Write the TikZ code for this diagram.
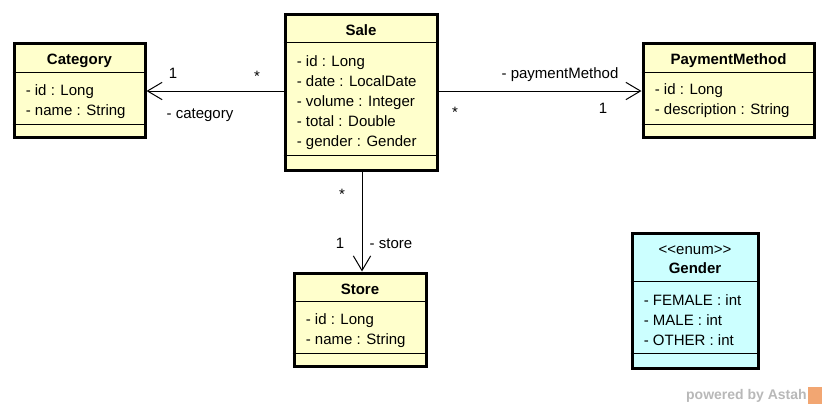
\documentclass[tikz,border=0pt]{standalone}
\usepackage{fontspec}
\setmainfont{Liberation Sans}
\usetikzlibrary{positioning,arrows.meta,calc}
\definecolor{clsfill}{HTML}{FFFFCC}
\definecolor{enumfill}{HTML}{CCFFFF}
\definecolor{logogray}{HTML}{B8B8B8}
\definecolor{logoorange}{HTML}{F2A672}
\tikzset{
  cls/.style={rectangle,draw=black,line width=2.25pt,fill=clsfill,inner sep=0pt},
  enm/.style={cls,fill=enumfill},
  ttl/.style={font=\fontsize{11.25}{14}\selectfont\bfseries,inner sep=0pt,anchor=base},
  attrs/.style={align=left,anchor=north west,inner sep=0pt,
    font=\fontsize{11.25}{15}\selectfont},
  sepline/.style={line width=0.75pt},
  assoc/.style={-{Straight Barb[length=11pt,width=13pt]},line width=0.75pt},
  lbl/.style={font=\fontsize{11.25}{14}\selectfont,inner sep=0pt,anchor=base},
}
\begin{document}
\begin{tikzpicture}[x=0.75pt,y=-0.75pt]
  \useasboundingbox (0,0) rectangle (828,408);
  % classes
  \node[cls,minimum width=98.25pt,minimum height=70.5pt] (cat) at (79.5,90) {};
  \node[cls,minimum width=114pt,minimum height=117pt] (sale) at (361,92) {};
  \node[cls,minimum width=128.25pt,minimum height=70.5pt] (pay) at (728.5,90) {};
  \node[cls,minimum width=99pt,minimum height=69.75pt] (store) at (360,319.5) {};
  \node[enm,minimum width=94.5pt,minimum height=101.25pt] (gender) at (695,300.5) {};
  % compartments
  \draw[sepline] ($(cat.north west)+(0,31)$) -- ($(cat.north east)+(0,31)$);
  \draw[sepline] ($(cat.south west)+(0,-14)$) -- ($(cat.south east)+(0,-14)$);
  \draw[sepline] ($(sale.north west)+(0,30)$) -- ($(sale.north east)+(0,30)$);
  \draw[sepline] ($(sale.south west)+(0,-16)$) -- ($(sale.south east)+(0,-16)$);
  \draw[sepline] ($(pay.north west)+(0,31)$) -- ($(pay.north east)+(0,31)$);
  \draw[sepline] ($(pay.south west)+(0,-14)$) -- ($(pay.south east)+(0,-14)$);
  \draw[sepline] ($(store.north west)+(0,30)$) -- ($(store.north east)+(0,30)$);
  \draw[sepline] ($(store.south west)+(0,-14)$) -- ($(store.south east)+(0,-14)$);
  \draw[sepline] ($(gender.north west)+(0,50)$) -- ($(gender.north east)+(0,50)$);
  \draw[sepline] ($(gender.south west)+(0,-16)$) -- ($(gender.south east)+(0,-16)$);
  % names
  \node[ttl] (catT) at ($(cat.north)+(0,23)$) {Category};
  \node[ttl] (saleT) at ($(sale.north)+(0,23)$) {Sale};
  \node[ttl] (payT) at ($(pay.north)+(0,23)$) {PaymentMethod};
  \node[ttl] (storeT) at ($(store.north)+(0,23)$) {Store};
  \node[lbl] (genderS) at ($(gender.north)+(0,23)$) {<{}<enum>{}>};
  \node[ttl] (genderT) at ($(gender.north)+(0,42)$) {Gender};
  % attributes
  \node[attrs] (catA) at ($(cat.north west)+(13,43)$) {- id : Long\\- name : String};
  \node[attrs] (saleA) at ($(sale.north west)+(13,43)$)
    {- id : Long\\- date : LocalDate\\- volume : Integer\\- total : Double\\- gender : Gender};
  \node[attrs] (payA) at ($(pay.north west)+(13,42)$) {- id : Long\\- description : String};
  \node[attrs] (storeA) at ($(store.north west)+(13,42)$) {- id : Long\\- name : String};
  \node[attrs] (genderA) at ($(gender.north west)+(13,63)$)
    {- FEMALE : int\\- MALE : int\\- OTHER : int};
  % associations
  \draw[assoc] (sale.west |- 0,91) -- (cat.east |- 0,91);
  \draw[assoc] (sale.east |- 0,91) -- (pay.west |- 0,91);
  \draw[assoc] (sale.south -| 362,0) -- (store.north -| 362,0);
  \node[lbl] (catOne) at (173,78) {1};
  \node[lbl] (catMany) at (257,81) {*};
  \node[lbl] (catRole) at (200,118) {- category};
  \node[lbl] (payRole) at (560,78) {- paymentMethod};
  \node[lbl] (payMany) at (455,117) {*};
  \node[lbl] (payOne) at (603,113) {1};
  \node[lbl] (storeMany) at (342,199) {*};
  \node[lbl] (storeOne) at (340,248) {1};
  \node[lbl] (storeRole) at (391,248) {- store};
  % logo
  \node[anchor=base east,inner sep=0pt,text=logogray,
    font=\fontsize{10.5}{12}\selectfont\bfseries] (logo) at (807,399) {powered by Astah};
  \node[fill=logoorange,minimum width=10.5pt,minimum height=12.75pt,inner sep=0pt,
    right=0.5pt of logo.east,anchor=west] (logoIcon) {};
\end{tikzpicture}
\end{document}
